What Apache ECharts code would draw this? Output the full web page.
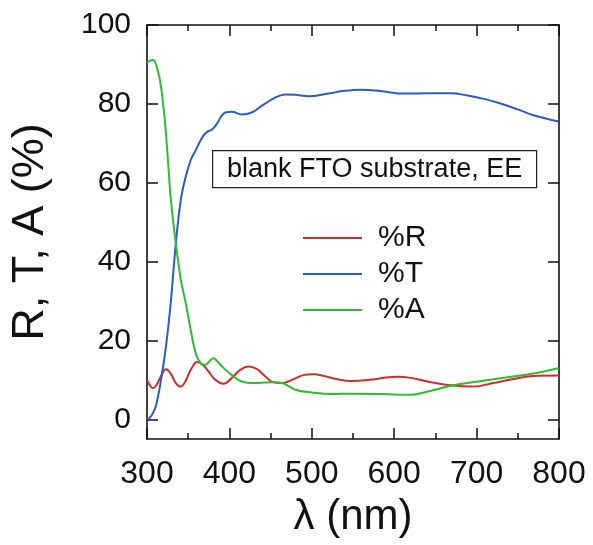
<!DOCTYPE html>
<html>
<head>
<meta charset="utf-8">
<script src="https://cdn.jsdelivr.net/npm/echarts@6/dist/echarts.min.js"></script>
<style>html,body{margin:0;padding:0;background:#fff}#c{width:593px;height:545px}</style>
</head>
<body>
<div id="c"></div>
<script>
// wavelength (nm) and values (%)
var rWl  = [300,303,307,311,317,323,329,335,341,347,353,361,368,375,383,393,403,413,423,433,443,452,464,478,490,502,515,530,548,570,590,604,620,640,665,697,720,745,769,800];
var rVal = [10.0,8.8,7.9,8.5,11.0,12.7,11.5,9.2,8.3,9.8,12.5,14.5,13.8,12.0,10.0,9.0,10.5,12.5,13.4,12.8,11.0,9.5,9.2,10.2,11.2,11.4,11.0,10.2,9.7,10.0,10.6,10.8,10.5,9.6,8.7,8.3,9.2,10.2,11.0,11.1];
var tWl  = [300,303,307,311,317,323,329,335,341,347,353,359,363,368,373,379,385,390,395,403,415,427,440,455,468,480,496,520,540,560,585,612,640,669,689,710,729,750,769,800];
var tVal = [0.0,0.3,1.5,3.5,10.0,18.4,30.0,44.6,55.6,61.5,65.7,68.2,69.9,71.8,72.9,73.5,75.0,76.8,77.8,78.0,77.3,77.8,79.6,81.5,82.4,82.3,81.9,82.6,83.3,83.6,83.2,82.6,82.7,82.7,82.1,81.2,80.1,78.6,77.1,75.5];
var aWl  = [300,307,313,317,320,323,326,329,335,341,347,353,359,365,371,376,381,386,391,403,415,431,443,452,464,480,500,524,548,600,620,640,669,700,729,769,800];
var aVal = [90.5,91.2,88.5,84.3,79.2,72.5,64.0,55.6,44.6,35.5,29.5,22.7,16.8,14.2,13.8,14.8,15.5,14.5,13.4,11.2,9.6,9.2,9.3,9.4,9.2,7.5,6.8,6.4,6.5,6.3,6.2,7.0,8.5,9.5,10.4,11.6,13.0];
var seriesNames = ['%R','%T','%A'];
var yTicks = [0,20,40,60,80,100];
var boxLabel = 'blank FTO substrate, EE';
var xTitle = 'λ (nm)';
var yTitle = 'R, T, A (%)';

function pairs(xs, ys){ return xs.map(function(x,i){ return [x, ys[i]]; }); }

var FONT = '"Liberation Sans", Arial, sans-serif';
var chart = echarts.init(document.getElementById('c'), null, {renderer:'canvas'});
function line(){ return {show:true, onZero:false, lineStyle:{color:'#111', width:1.6}}; }
function xAx(pos, labels){
  return {
    type:'value', position:pos, min:300, max:800, interval:100,
    axisLine:line(),
    axisTick:{show:true, inside:false, length:-11, lineStyle:{color:'#111', width:1.5}},
    minorTick:{show:true, splitNumber:2, length:-6, lineStyle:{color:'#111', width:1.5}},
    splitLine:{show:false}, minorSplitLine:{show:false},
    axisLabel:{show:labels, margin:19, fontSize:32, color:'#111', fontFamily:FONT},
    name: labels ? xTitle : '', nameLocation:'middle', nameGap:57,
    nameTextStyle:{fontSize:42, color:'#111', fontFamily:FONT}
  };
}
function yAx(pos, labels){
  return {
    type:'value', position:pos, min:-5, max:100,
    axisLine:line(),
    axisTick:{show:true, inside:false, length:-11, customValues:yTicks, lineStyle:{color:'#111', width:1.5}},
    splitLine:{show:false},
    axisLabel:{show:labels, customValues:yTicks, margin:16, fontSize:30, color:'#111', fontFamily:FONT},
    name: labels ? yTitle : '', nameLocation:'middle', nameGap:94,
    nameTextStyle:{fontSize:45, color:'#111', fontFamily:FONT}
  };
}
var colors = ['#d22b2b','#2b5bc9','#2dbd2d'];
var datas = [pairs(rWl,rVal), pairs(tWl,tVal), pairs(aWl,aVal)];
chart.setOption({
  animation:false,
  backgroundColor:'#fff',
  grid:{left:144, right:34, top:25, bottom:106, containLabel:false},
  xAxis:[xAx('bottom', true), xAx('top', false)],
  yAxis:[yAx('left', true), yAx('right', false)],
  legend:{
    data:seriesNames, orient:'vertical', left:303, top:220, padding:0,
    icon:'rect', itemWidth:59, itemHeight:2, itemGap:0,
    textStyle:{fontSize:30, lineHeight:36, color:'#111', fontFamily:FONT, padding:[0,0,0,11]}
  },
  graphic:[{
    type:'group', left:212, top:150,
    children:[
      {type:'rect', shape:{x:0,y:0,width:324,height:37}, style:{fill:'#fff', stroke:'#222', lineWidth:1.2}},
      {type:'text', x:162, y:19, style:{text:boxLabel, fontSize:27, fontFamily:FONT, fill:'#111', align:'center', verticalAlign:'middle'}}
    ]
  }],
  series: seriesNames.map(function(n,i){
    return {name:n, type:'line', data:datas[i], smooth:0.4, symbol:'none', showSymbol:false,
      xAxisIndex:0, yAxisIndex:0,
      lineStyle:{color:colors[i], width:2}, itemStyle:{color:colors[i]}};
  })
});
</script>
</body>
</html>
